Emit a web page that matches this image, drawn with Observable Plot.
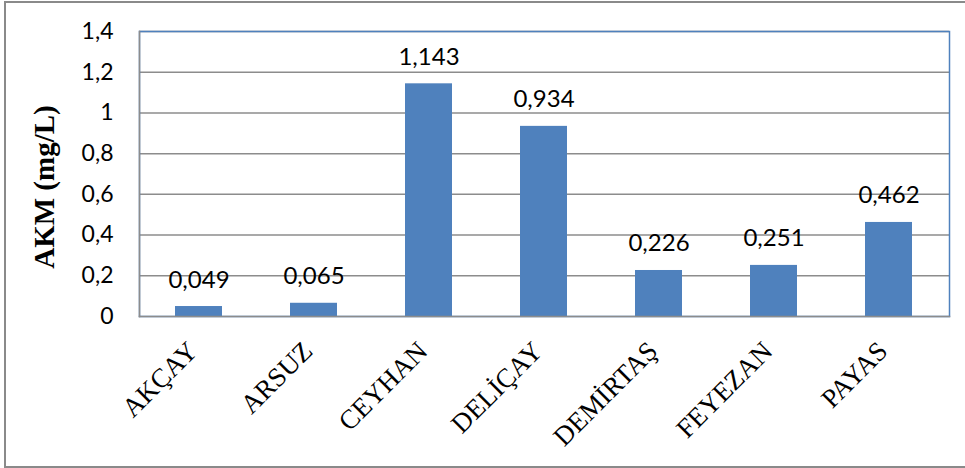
<!DOCTYPE html>
<html><head><meta charset="utf-8">
<script src="https://cdn.jsdelivr.net/npm/d3@7"></script>
<script src="https://cdn.jsdelivr.net/npm/@observablehq/plot@0.6"></script>
<style>
html,body{margin:0;padding:0;background:#fff;overflow:hidden;}
#wrap{position:relative;width:965px;height:468px;overflow:hidden;}
#border{position:absolute;left:4px;top:1px;width:980px;height:463px;border:2px solid #8a8a8a;box-sizing:content-box;pointer-events:none;}
</style>
</head><body>
<div id="wrap"><div id="border"></div></div>
<script>
const stations = ["AKÇAY","ARSUZ","CEYHAN","DELİÇAY","DEMİRTAŞ","FEYEZAN","PAYAS"];
const akm = [0.049,0.065,1.143,0.934,0.226,0.251,0.462];
const yTicks = [0,0.2,0.4,0.6,0.8,1,1.2,1.4];
const data = stations.map((s,i)=>({station:s, value:akm[i]}));
const comma = v => String(v).replace(".", ",");

const chart = Plot.plot({
  width: 965, height: 468,
  marginLeft: 139, marginRight: 16, marginTop: 31, marginBottom: 152,
  style: {background: "transparent", overflow: "visible"},
  x: {domain: stations, paddingInner: 0.59, paddingOuter: 0.295, label: null},
  y: {domain: [0, 1.4], label: null},
  marks: [
    Plot.ruleY(yTicks.slice(1), {stroke: "#8c8c8c", strokeWidth: 1.5, strokeOpacity: 1}),
    Plot.barY(data, {x: "station", y: "value", fill: "#4F81BD"}),
    Plot.frame({stroke: "#4F81BD", strokeWidth: 1.5}),
    Plot.frame({anchor: "left", stroke: "#8c8c8c", strokeWidth: 1.5}),
    Plot.frame({anchor: "bottom", stroke: "#8c8c8c", strokeWidth: 1.5}),
    Plot.text(data, {x: "station", y: "value", text: d => comma(d.value.toFixed(3)), dy: -19, lineAnchor: "bottom",
      fontFamily: "Lato", fontSize: 24, fill: "#000"}),
    Plot.axisY({ticks: yTicks, tickSize: 0, tickPadding: 26, tickFormat: comma,
      fontFamily: "Lato", fontSize: 23, color: "#000", label: null}),
    Plot.axisX({tickSize: 0, tickRotate: -45, tickPadding: 30, fontFamily: "Liberation Serif", fontSize: 27,
      color: "#000", label: null, dx: -6}),
    Plot.text(["AKM (mg/L)"], {frameAnchor: "left", textAnchor: "middle", dx: -95, dy: 13, rotate: -90,
      fontFamily: "Liberation Serif", fontWeight: "bold", fontSize: 29, fill: "#000"})
  ]
});
document.getElementById("wrap").prepend(chart);
</script>
</body></html>
